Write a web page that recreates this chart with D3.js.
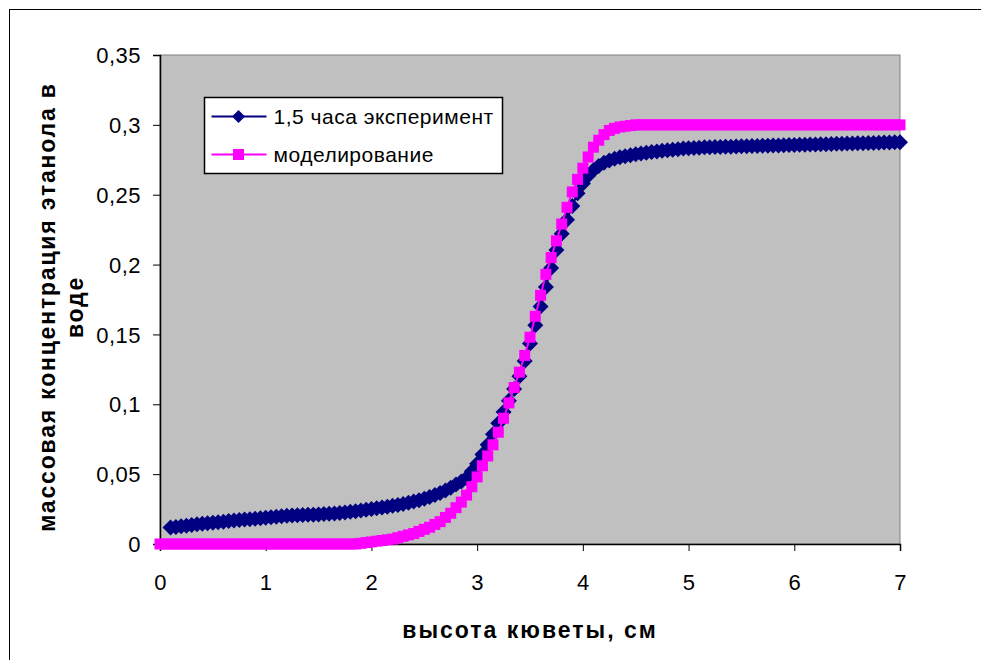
<!DOCTYPE html>
<html>
<head>
<meta charset="utf-8">
<script src="https://cdn.jsdelivr.net/npm/d3@7"></script>
<style>
  body { margin: 0; background: #fff; }
  text { font-family: Arial, "Liberation Sans", sans-serif; }
</style>
</head>
<body>
<div id="chart-area"></div>
<script>
// x values (cm) for the model series, 0 .. 7 step 0.05
var heightModel = [0,0.05,0.1,0.15,0.2,0.25,0.3,0.35,0.4,0.45,0.5,0.55,0.6,0.65,0.7,0.75,0.8,0.85,0.9,0.95,
  1,1.05,1.1,1.15,1.2,1.25,1.3,1.35,1.4,1.45,1.5,1.55,1.6,1.65,1.7,1.75,1.8,1.85,1.9,1.95,
  2,2.05,2.1,2.15,2.2,2.25,2.3,2.35,2.4,2.45,2.5,2.55,2.6,2.65,2.7,2.75,2.8,2.85,2.9,2.95,
  3,3.05,3.1,3.15,3.2,3.25,3.3,3.35,3.4,3.45,3.5,3.55,3.6,3.65,3.7,3.75,3.8,3.85,3.9,3.95,
  4,4.05,4.1,4.15,4.2,4.25,4.3,4.35,4.4,4.45,4.5,4.55,4.6,4.65,4.7,4.75,4.8,4.85,4.9,4.95,
  5,5.05,5.1,5.15,5.2,5.25,5.3,5.35,5.4,5.45,5.5,5.55,5.6,5.65,5.7,5.75,5.8,5.85,5.9,5.95,
  6,6.05,6.1,6.15,6.2,6.25,6.3,6.35,6.4,6.45,6.5,6.55,6.6,6.65,6.7,6.75,6.8,6.85,6.9,6.95,7];

var modelValues = [0,0,0,0,0,0,0,0,0,0,0,0,0,0,0,0,0,0,0,0,
  0,0,0,0,0,0,0,0,0,0,0,0,0,0,0,0,0,0,0.0005,0.001,
  0.0015,0.002,0.0025,0.003,0.0035,0.0045,0.0055,0.0065,0.0075,0.009,0.0105,0.012,0.014,0.016,0.019,0.022,0.026,0.030,0.035,0.041,
  0.048,0.056,0.063,0.071,0.080,0.090,0.101,0.112,0.123,0.135,0.148,0.163,0.178,0.193,0.205,0.217,0.229,0.241,0.252,0.261,
  0.269,0.277,0.284,0.289,0.293,0.296,0.2975,0.2985,0.299,0.2995,0.3,0.3,0.3,0.3,0.3,0.3,0.3,0.3,0.3,0.3,
  0.3,0.3,0.3,0.3,0.3,0.3,0.3,0.3,0.3,0.3,0.3,0.3,0.3,0.3,0.3,0.3,0.3,0.3,0.3,0.3,
  0.3,0.3,0.3,0.3,0.3,0.3,0.3,0.3,0.3,0.3,0.3,0.3,0.3,0.3,0.3,0.3,0.3,0.3,0.3,0.3,0.3];

// experiment starts at 0.1 cm
var heightExp = heightModel.slice(2);

var expValues = [0.0118,0.0122,0.0127,0.0131,0.0136,0.0141,0.0145,0.0149,0.0152,0.0156,0.0160,0.0164,0.0168,0.0172,0.0175,0.0178,0.0181,0.0185,
  0.0188,0.0191,0.0195,0.0199,0.0202,0.0204,0.0206,0.0207,0.0209,0.0210,0.0212,0.0214,0.0216,0.0219,0.0222,0.0226,0.0230,0.0234,0.0240,0.0245,
  0.0250,0.0255,0.0261,0.0267,0.0273,0.0279,0.0287,0.0295,0.0304,0.0313,0.0324,0.0336,0.0350,0.0365,0.0383,0.0403,0.0425,0.0447,0.0472,0.0520,
  0.0575,0.0640,0.0710,0.0785,0.0865,0.0945,0.1025,0.1110,0.1200,0.1310,0.1435,0.1565,0.1700,0.1840,0.1975,0.2105,0.2220,0.2320,0.2420,0.2510,
  0.2580,0.2635,0.2675,0.2705,0.2728,0.2745,0.2758,0.2768,0.2776,0.2783,0.2790,0.2795,0.2800,0.2805,0.2810,0.2814,0.2818,0.2822,0.2826,0.2830,
  0.2833,0.2835,0.2837,0.2839,0.2840,0.2841,0.2842,0.2843,0.2844,0.2845,0.2846,0.2847,0.2848,0.2849,0.2850,0.2851,0.2852,0.2853,0.2854,0.2855,
  0.2856,0.2857,0.2858,0.2859,0.2860,0.2861,0.2862,0.2863,0.2864,0.2865,0.2866,0.2867,0.2868,0.2869,0.2870,0.2871,0.2872,0.2873,0.2874,0.2875,
  0.2876];

var xTicks = [0,1,2,3,4,5,6,7];
var yTicks = [0,0.05,0.1,0.15,0.2,0.25,0.3,0.35];
var yTickLabels = ["0","0,05","0,1","0,15","0,2","0,25","0,3","0,35"];

var seriesNames = ["1,5 часа эксперимент", "моделирование"];
var xTitle = "высота кюветы, см";
var yTitle = ["массовая концентрация этанола в", "воде"];

var width = 981, height = 660;
var plot = {left: 160, right: 900, top: 55, bottom: 544};

var svg = d3.select("#chart-area")
    .append("svg")
    .attr("width", width)
    .attr("height", height);

// chart frame (right/bottom edges fall outside the picture)
svg.append("rect")
  .attr("x", 9.5).attr("y", 9.5)
  .attr("width", 1000).attr("height", 700)
  .attr("fill", "#fff").attr("stroke", "#000");

var x = d3.scaleLinear().domain([0, 7]).range([plot.left, plot.right]);
var y = d3.scaleLinear().domain([0, 0.35]).range([plot.bottom, plot.top]);

// plot area
svg.append("rect")
  .attr("x", plot.left).attr("y", plot.top)
  .attr("width", plot.right - plot.left).attr("height", plot.bottom - plot.top)
  .attr("fill", "#c0c0c0").attr("stroke", "#808080");

var yAxis = d3.axisLeft(y)
  .tickValues(yTicks)
  .tickSize(7)
  .tickPadding(12)
  .tickFormat(function(d, i){ return yTickLabels[i]; });

var xAxis = d3.axisBottom(x)
  .tickValues(xTicks)
  .tickSize(7)
  .tickPadding(23)
  .tickFormat(function(d){ return d; });

var gy = svg.append("g")
  .attr("transform", "translate(" + plot.left + ",0)")
  .call(yAxis);
var gx = svg.append("g")
  .attr("transform", "translate(0," + plot.bottom + ")")
  .call(xAxis);

[gx, gy].forEach(function(g){
  g.select(".domain").attr("stroke", "#000").attr("stroke-width", 1.5);
  g.selectAll(".tick line").attr("stroke", "#000");
  g.selectAll(".tick text")
    .attr("font-size", "22px")
    .attr("letter-spacing", "0.5px")
    .attr("fill", "#000")
    .style("font-family", "Arial, 'Liberation Sans', sans-serif");
});
gy.selectAll(".tick text").attr("dy", "0.35em");

// axis titles
svg.append("text")
  .attr("x", 530).attr("y", 638)
  .attr("text-anchor", "middle")
  .attr("font-size", "23px")
  .attr("letter-spacing", "2px")
  .attr("font-weight", "bold")
  .text(xTitle);

var yt = svg.append("text")
  .attr("transform", "translate(55,307) rotate(-90)")
  .attr("text-anchor", "middle")
  .attr("font-size", "23px")
  .attr("letter-spacing", "1.8px")
  .attr("font-weight", "bold");
yt.selectAll("tspan")
  .data(yTitle)
  .enter().append("tspan")
  .attr("x", 0)
  .attr("dy", function(d, i){ return i === 0 ? 0 : 28; })
  .text(function(d){ return d; });

// series
var expData = heightExp.map(function(h, i){ return {x: h, y: expValues[i]}; });
var modelData = heightModel.map(function(h, i){ return {x: h, y: modelValues[i]}; });

var line = d3.line()
  .x(function(d){ return x(d.x); })
  .y(function(d){ return y(d.y); });

var diamond = "M0,-8L8,0L0,8L-8,0Z";

svg.append("path")
  .datum(expData)
  .attr("d", line)
  .attr("fill", "none")
  .attr("stroke", "#000080")
  .attr("stroke-width", 2);

svg.append("g").selectAll("path")
  .data(expData)
  .enter().append("path")
  .attr("transform", function(d){ return "translate(" + x(d.x) + "," + y(d.y) + ")"; })
  .attr("d", diamond)
  .attr("fill", "#000080");

svg.append("path")
  .datum(modelData)
  .attr("d", line)
  .attr("fill", "none")
  .attr("stroke", "#ff00ff")
  .attr("stroke-width", 2);

svg.append("g").selectAll("rect")
  .data(modelData)
  .enter().append("rect")
  .attr("x", function(d){ return x(d.x) - 5.5; })
  .attr("y", function(d){ return y(d.y) - 5.5; })
  .attr("width", 11).attr("height", 11)
  .attr("fill", "#ff00ff");

// legend
var legend = svg.append("g").attr("transform", "translate(204.5,97.5)");
legend.append("rect")
  .attr("width", 298).attr("height", 76)
  .attr("fill", "#fff").attr("stroke", "#000").attr("stroke-width", 1.5);

var legColors = ["#000080", "#ff00ff"];
var items = legend.selectAll(".item")
  .data(seriesNames)
  .enter().append("g")
  .attr("class", "item")
  .attr("transform", function(d, i){ return "translate(0," + (19 + i * 38) + ")"; });

items.append("line")
  .attr("x1", 7).attr("x2", 62)
  .attr("stroke", function(d, i){ return legColors[i]; })
  .attr("stroke-width", 2);

items.append("path")
  .attr("transform", "translate(34,0)")
  .attr("d", function(d, i){ return i === 0 ? "M0,-6.5L6.5,0L0,6.5L-6.5,0Z" : "M-5.5,-5.5H5.5V5.5H-5.5Z"; })
  .attr("fill", function(d, i){ return legColors[i]; });

items.append("text")
  .attr("x", 69).attr("dy", "0.35em")
  .attr("font-size", "21px")
  .attr("letter-spacing", "0.5px")
  .text(function(d){ return d; });
</script>
</body>
</html>
